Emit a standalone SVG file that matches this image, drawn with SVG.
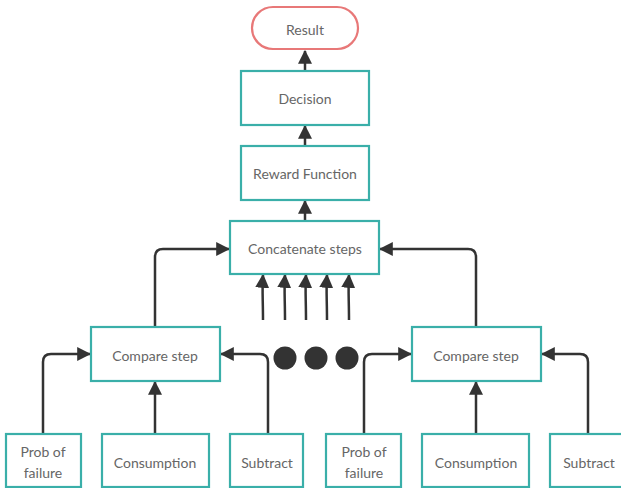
<svg xmlns="http://www.w3.org/2000/svg" width="621" height="488" viewBox="0 0 621 488">
<style>
.box{fill:#fff;stroke:#3aafa9;stroke-width:2.2}
.res{fill:#fff;stroke:#e87878;stroke-width:2.2}
.t{font-family:Lato,"Open Sans",sans-serif;font-size:14px;fill:#666;text-anchor:middle;dominant-baseline:central}
.c{fill:none;stroke:#333;stroke-width:2.5}
.dot{fill:#333}
</style>
<defs>
<marker id="ah" viewBox="0 0 12 12" markerWidth="14" markerHeight="14" refX="11" refY="6" orient="auto" markerUnits="userSpaceOnUse">
<path d="M0,0 L12,6 L0,12 z" fill="#333"/>
</marker>
</defs>
<rect width="621" height="488" fill="#fff"/>
<g id="connectors">
<path class="c" d="M305,71 V51" marker-end="url(#ah)"/>
<path class="c" d="M305,146 V126" marker-end="url(#ah)"/>
<path class="c" d="M305,221 V201" marker-end="url(#ah)"/>
<path class="c" d="M155,327 V257 Q155,249 163,249 H229" marker-end="url(#ah)"/>
<path class="c" d="M476,327 V257 Q476,249 468,249 H380" marker-end="url(#ah)"/>
<path class="c" d="M263,320 C263,300 262,290 263,275" marker-end="url(#ah)"/>
<path class="c" d="M285,320 C285,300 284,290 285,275" marker-end="url(#ah)"/>
<path class="c" d="M306,320 C306,300 305,290 306,275" marker-end="url(#ah)"/>
<path class="c" d="M327,320 C327,300 326,290 327,275" marker-end="url(#ah)"/>
<path class="c" d="M349,320 C349,300 348,290 349,275" marker-end="url(#ah)"/>
<path class="c" d="M43,434 V362 Q43,354 51,354 H90" marker-end="url(#ah)"/>
<path class="c" d="M155,434 V382" marker-end="url(#ah)"/>
<path class="c" d="M268,434 V362 Q268,354 260,354 H221" marker-end="url(#ah)"/>
<path class="c" d="M364,434 V362 Q364,354 372,354 H411" marker-end="url(#ah)"/>
<path class="c" d="M476,434 V382" marker-end="url(#ah)"/>
<path class="c" d="M588,434 V362 Q588,354 580,354 H542" marker-end="url(#ah)"/>
</g>
<g id="dots">
<circle class="dot" cx="285" cy="358" r="11.5"/>
<circle class="dot" cx="316" cy="358" r="11.5"/>
<circle class="dot" cx="347" cy="358" r="11.5"/>
</g>
<g id="result"><rect class="res" x="252" y="7" width="106" height="42" rx="21"/><text class="t" x="305" y="29">Result</text></g>
<g id="decision"><rect class="box" x="241" y="71" width="128" height="54"/><text class="t" x="305" y="98">Decision</text></g>
<g id="reward"><rect class="box" x="241" y="146" width="128" height="54"/><text class="t" x="305" y="173">Reward Function</text></g>
<g id="concat"><rect class="box" x="230" y="221" width="149" height="53"/><text class="t" x="305" y="248">Concatenate steps</text></g>
<g id="compare1"><rect class="box" x="91" y="327" width="129" height="54"/><text class="t" x="155" y="355">Compare step</text></g>
<g id="compare2"><rect class="box" x="412" y="327" width="129" height="54"/><text class="t" x="476" y="355">Compare step</text></g>
<g id="prob1"><rect class="box" x="6" y="434" width="75" height="53"/><text class="t" x="43" y="451">Prob of</text><text class="t" x="43" y="472">failure</text></g>
<g id="cons1"><rect class="box" x="102" y="434" width="107" height="53"/><text class="t" x="155" y="462">Consumption</text></g>
<g id="sub1"><rect class="box" x="230" y="434" width="73" height="53"/><text class="t" x="267" y="462">Subtract</text></g>
<g id="prob2"><rect class="box" x="326" y="434" width="75" height="53"/><text class="t" x="364" y="451">Prob of</text><text class="t" x="364" y="472">failure</text></g>
<g id="cons2"><rect class="box" x="422" y="434" width="107" height="53"/><text class="t" x="476" y="462">Consumption</text></g>
<g id="sub2"><rect class="box" x="550" y="434" width="73" height="53"/><text class="t" x="589" y="462">Subtract</text></g>
</svg>
